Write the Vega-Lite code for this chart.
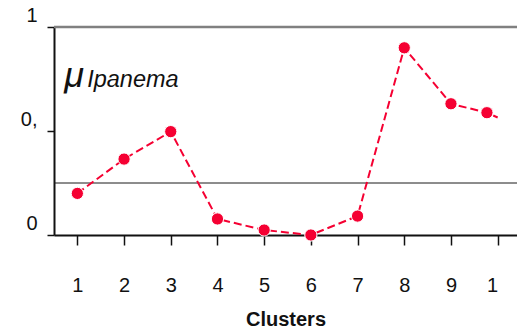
{
  "$schema": "https://vega.github.io/schema/vega-lite/v6.json",
  "width": 463,
  "height": 208,
  "autosize": {"type": "none"},
  "padding": {"left": 54, "top": 27, "right": 0, "bottom": 100},
  "background": "white",
  "config": {
    "view": {"stroke": null},
    "font": "Liberation Sans"
  },
  "datasets": {
    "line": [
      {"cluster": 1, "mu": 0.2},
      {"cluster": 2, "mu": 0.365},
      {"cluster": 3, "mu": 0.497},
      {"cluster": 4, "mu": 0.077},
      {"cluster": 5, "mu": 0.024},
      {"cluster": 6, "mu": 0.0},
      {"cluster": 7, "mu": 0.091},
      {"cluster": 8, "mu": 0.9},
      {"cluster": 9, "mu": 0.631},
      {"cluster": 9.77, "mu": 0.588},
      {"cluster": 10, "mu": 0.565}
    ],
    "points": [
      {"cluster": 1, "mu": 0.2},
      {"cluster": 2, "mu": 0.365},
      {"cluster": 3, "mu": 0.497},
      {"cluster": 4, "mu": 0.077},
      {"cluster": 5, "mu": 0.024},
      {"cluster": 6, "mu": 0.0},
      {"cluster": 7, "mu": 0.091},
      {"cluster": 8, "mu": 0.9},
      {"cluster": 9, "mu": 0.631},
      {"cluster": 9.77, "mu": 0.588}
    ],
    "refs": [{"level": 0.25, "kind": "mid"}],
    "tops": [{"level": 1, "kind": "top"}],
    "mu": [{"cluster": 0.72, "mu": 0.71, "t": "μ"}],
    "sub": [{"cluster": 1.21, "mu": 0.71, "t": "Ipanema"}]
  },
  "layer": [
    {
      "data": {"name": "refs"},
      "mark": {"type": "rule", "color": "#1a1a1a", "strokeWidth": 1},
      "encoding": {"y": {"field": "level", "type": "quantitative", "scale": {"domain": [0, 1]}}}
    },
    {
      "data": {"name": "tops"},
      "mark": {"type": "rule", "color": "#808080", "strokeWidth": 2.5},
      "encoding": {"y": {"field": "level", "type": "quantitative", "scale": {"domain": [0, 1]}}}
    },
    {
      "data": {"name": "line"},
      "mark": {"type": "line", "color": "#f50032", "strokeWidth": 2, "strokeDash": [8, 4]},
      "encoding": {
        "x": {
          "field": "cluster", "type": "quantitative",
          "scale": {"domain": [0.5, 10.414], "nice": false, "zero": false},
          "axis": {
            "values": [1, 2, 3, 4, 5, 6, 7, 8, 9, 10],
            "labelExpr": "datum.value == 10 ? '1' : datum.label",
            "labelAlign": {"condition": {"test": "datum.value == 10", "value": "right"}, "value": "center"},
            "labelFlush": false,
            "labelFontSize": 20,
            "labelColor": "#111111",
            "labelPadding": 30,
            "tickSize": 10,
            "tickColor": "#111111",
            "tickWidth": 1.5,
            "domainColor": "#111111",
            "domainWidth": 2,
            "grid": false,
            "title": "Clusters",
            "titleFontSize": 20,
            "titleFontWeight": "bold",
            "titleColor": "#111111",
            "titlePadding": 14
          }
        },
        "y": {
          "field": "mu", "type": "quantitative",
          "scale": {"domain": [0, 1], "nice": false},
          "axis": {
            "values": [0, 0.5, 1],
            "labelExpr": "datum.value == 1 ? '1' : datum.value == 0.5 ? '0,' : '0'",
            "labelFontSize": 20,
            "labelColor": "#111111",
            "labelOffset": -12,
            "labelPadding": 10,
            "tickSize": 7,
            "tickColor": "#111111",
            "tickWidth": 1.5,
            "domainColor": "#111111",
            "domainWidth": 2,
            "grid": false,
            "title": null
          }
        }
      }
    },
    {
      "data": {"name": "points"},
      "mark": {"type": "circle", "color": "#f50032", "opacity": 1, "size": 150, "stroke": "white", "strokeWidth": 1},
      "encoding": {
        "x": {"field": "cluster", "type": "quantitative"},
        "y": {"field": "mu", "type": "quantitative"}
      }
    },
    {
      "data": {"name": "mu"},
      "mark": {"type": "text", "fontSize": 36, "fontStyle": "italic", "align": "left", "baseline": "alphabetic", "color": "#111111"},
      "encoding": {
        "x": {"field": "cluster", "type": "quantitative"},
        "y": {"field": "mu", "type": "quantitative"},
        "text": {"field": "t"}
      }
    },
    {
      "data": {"name": "sub"},
      "mark": {"type": "text", "fontSize": 23.5, "fontStyle": "italic", "align": "left", "baseline": "alphabetic", "color": "#111111"},
      "encoding": {
        "x": {"field": "cluster", "type": "quantitative"},
        "y": {"field": "mu", "type": "quantitative"},
        "text": {"field": "t"}
      }
    }
  ]
}
